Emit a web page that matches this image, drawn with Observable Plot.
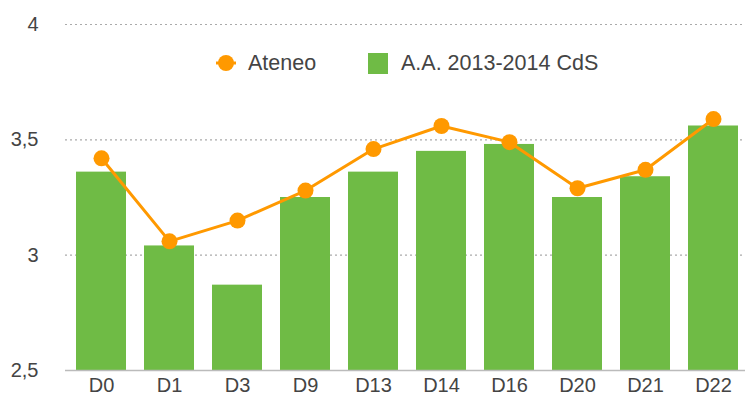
<!DOCTYPE html>
<html>
<head>
<meta charset="utf-8">
<script src="https://cdn.jsdelivr.net/npm/d3@7"></script>
<script src="https://cdn.jsdelivr.net/npm/@observablehq/plot@0.6"></script>
<style>
  body { margin: 0; background: #fff; }
  #wrap { position: relative; width: 745px; height: 400px; overflow: hidden; }
  #legend { position: absolute; top: 51px; left: 0; width: 745px; font-family: "Liberation Sans", Arial, sans-serif; font-size: 21.5px; color: #444; }
  .item { position: absolute; top: 0; display: flex; align-items: center; height: 24px; }
  .sw { display: inline-block; }
</style>
</head>
<body>
<div id="wrap">
  <div id="chart"></div>
  <div id="legend">
    <div class="item" style="left:214px">
      <svg width="24" height="24" class="sw"><line x1="2" y1="12" x2="22" y2="12" stroke="#FF9900" stroke-width="3"/><circle cx="12" cy="12" r="8" fill="#FF9900"/></svg>
      <span style="margin-left:10px">Ateneo</span>
    </div>
    <div class="item" style="left:368px">
      <span class="sw" style="width:20px;height:21px;background:#6FBB45"></span>
      <span style="margin-left:13px">A.A. 2013-2014 CdS</span>
    </div>
  </div>
</div>
<script>
const categories = ["D0", "D1", "D3", "D9", "D13", "D14", "D16", "D20", "D21", "D22"];
const cdsValues = [3.36, 3.04, 2.87, 3.25, 3.36, 3.45, 3.48, 3.25, 3.34, 3.56];
const ateneoValues = [3.42, 3.06, 3.15, 3.28, 3.46, 3.56, 3.49, 3.29, 3.37, 3.59];
const yTicks = [2.5, 3, 3.5, 4];

const data = categories.map((c, i) => ({cat: c, cds: cdsValues[i], ateneo: ateneoValues[i]}));
const fmt = d => String(d).replace(".", ",");

const chart = Plot.plot({
  width: 745,
  height: 400,
  marginTop: 24,
  marginBottom: 30,
  marginLeft: 65,
  marginRight: -4,
  style: {fontFamily: "'Liberation Sans', Arial, sans-serif", fontSize: "20px", color: "#444", background: "#fff", overflow: "hidden"},
  x: {domain: categories, paddingInner: 0.27, paddingOuter: 0.135, label: null, tickSize: 0, tickPadding: 7},
  y: {domain: [2.5, 4], label: null, ticks: yTicks, tickFormat: fmt, tickSize: 0, tickPadding: 27},
  marks: [
    Plot.gridY(yTicks.filter(t => t > 2.5), {stroke: "#aaa", strokeOpacity: 1, strokeDasharray: "2,3", strokeWidth: 1.2}),
    Plot.barY(data, {x: "cat", y1: 2.5, y2: "cds", fill: "#6FBB45"}),
    Plot.ruleY([2.5], {stroke: "#bbb", strokeWidth: 1.5}),
    Plot.line(data, {x: "cat", y: "ateneo", stroke: "#FF9900", strokeWidth: 3}),
    Plot.dot(data, {x: "cat", y: "ateneo", r: 8, fill: "#FF9900"})
  ]
});
document.getElementById("chart").appendChild(chart);
</script>
</body>
</html>
